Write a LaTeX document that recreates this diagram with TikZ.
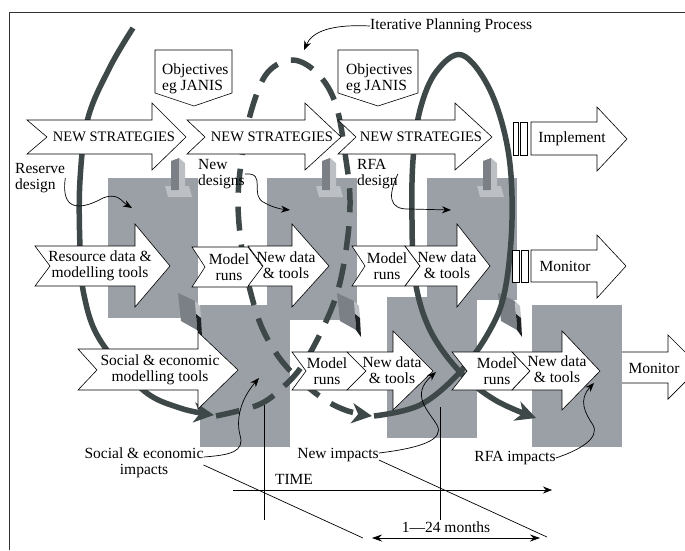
\documentclass[tikz,border=0pt]{standalone}
\usepackage{fontspec}
\setmainfont{Liberation Serif}
\usetikzlibrary{arrows.meta}
\definecolor{slabgray}{RGB}{154,160,166}
\definecolor{loopdark}{RGB}{62,72,72}
\definecolor{peglight}{RGB}{188,192,196}
\definecolor{pegmid}{RGB}{122,128,134}
\definecolor{pegdark}{RGB}{30,34,36}

\begin{document}
\begin{tikzpicture}[x=1pt,y=-1pt,
  blk/.style={draw=black,fill=white,line width=0.6pt,line join=miter},
  slab/.style={fill=slabgray},
  loopline/.style={draw=loopdark,line width=5.5pt},
  loophead/.style={-{Stealth[length=20pt,width=20pt,inset=6pt]}},
  pointer/.style={draw=black,line width=0.7pt,-{Stealth[length=9pt,width=7pt]}},
  thin/.style={draw=black,line width=0.7pt},
  caps/.style={font=\fontsize{14.5}{15.5}\selectfont},
  every node/.style={inner sep=0pt,font=\fontsize{15.5}{16}\selectfont}]
\useasboundingbox (0,0) rectangle (685,550);
\draw [black!80,line width=1pt] (9,550) -- (9,12) -- (685,12);
% grey blocks
\fill [slab] (108,178) rectangle (198,318);
\fill [slab] (200,305) rectangle (290,447);
\fill [slab] (267,178) rectangle (357,320);
\fill [slab] (387,297) rectangle (477,438);
\fill [slab] (427,178) rectangle (517,300);
\fill [slab] (532,305) rectangle (622,447);
% pegs
\foreach \px/\qx in {165/178, 316/337, 477/498} {
  \fill [peglight] (\px,186) -- (\px+24,186) -- (\px+27,197) -- (\px+3,197) -- cycle;
  \fill [pegmid] (\px+6,161) -- (\px+14,158) -- (\px+14,190) -- (\px+6,190) -- cycle;
  \fill [peglight] (\px+14,158) -- (\px+20,163) -- (\px+20,192) -- (\px+14,190) -- cycle;
  \fill [pegmid] (\qx,293) -- (\qx+17,301) -- (\qx+19,330) -- (\qx+3,321) -- cycle;
  \fill [peglight] (\qx+17,301) -- (\qx+22,306) -- (\qx+23,318) -- (\qx+18,314) -- cycle;
  \fill [pegdark] (\qx+18,314) -- (\qx+23,318) -- (\qx+24,337) -- (\qx+19,330) -- cycle;
}
% loops
\draw [loopline,loophead] plot [smooth,tension=0.6] coordinates {(133,28) (110,67) (88,118) (80,180) (80,247) (84,295) (100,340) (143,390) (180,408) (214,415)};
\draw [loopline,loophead,dash pattern=on 24pt off 14pt] plot [smooth,tension=0.6] coordinates {(216,416) (258,405) (282,388) (302,366) (322,330) (338,290) (347,243) (350,200) (346,160) (336,105) (318,74) (293,60) (268,72) (253,105) (243,150) (238,200) (242,250) (250,290) (263,330) (285,365) (318,395) (345,410) (372,416)};
\draw [loopline,loophead] plot [smooth,tension=0.6] coordinates {(374,416) (420,405) (460,372) (490,330) (505,290) (512,220) (508,150) (490,90) (462,55) (436,72) (420,110) (413,160) (412,220) (415,280) (430,330) (460,372) (495,400) (536,418)};
% row 1
\draw [blk] (155,50) -- (232,50) -- (232,93) -- (194,106) -- (155,93) -- cycle;
\draw [blk] (338,50) -- (418,50) -- (418,93) -- (378,106) -- (338,93) -- cycle;
\node [anchor=west,align=left] (obj1) at (162,79) {Objectives\\eg JANIS};
\node [anchor=west,align=left] (obj2) at (346,79) {Objectives\\eg JANIS};
\draw [blk] (27,120) -- (152,120) -- (152,103) -- (186,137) -- (152,170) -- (152,154) -- (27,154) -- (47,137) -- cycle;
\draw [blk] (187,120) -- (305,120) -- (305,103) -- (341,137) -- (305,170) -- (305,154) -- (187,154) -- (205,137) -- cycle;
\draw [blk] (338,120) -- (455,120) -- (455,103) -- (492,137) -- (455,170) -- (455,154) -- (338,154) -- (356,137) -- cycle;
\node [caps] (ns1) at (114,137) {NEW STRATEGIES};
\node [caps] (ns2) at (272,137) {NEW STRATEGIES};
\node [caps] (ns3) at (421,137) {NEW STRATEGIES};
\draw [blk] (513,122) rectangle (518,155);
\draw [blk] (520,122) rectangle (527,155);
\draw [blk] (531,122) -- (597,122) -- (597,107) -- (627,139) -- (597,171) -- (597,155) -- (531,155) -- cycle;
\node (impl) at (572,139) {Implement};
% row 2
\draw [blk] (35,246) -- (135,246) -- (135,224) -- (170,266) -- (135,307) -- (135,286) -- (35,286) -- (50,266) -- cycle;
\node [align=center] (res) at (100,266) {Resource data \&\\modelling tools};
\draw [blk] (192,247) -- (248,247) -- (263,267) -- (248,287) -- (192,287) -- (205,267) -- cycle;
\node [align=center] (mr1) at (229,267) {Model\\runs};
\draw [blk] (248,246) -- (292,246) -- (292,224) -- (329,266) -- (292,307) -- (292,286) -- (248,286) -- (263,266) -- cycle;
\node [align=center] (nd1) at (286,265) {New data\\\& tools};
\draw [blk] (352,246) -- (405,246) -- (420,266) -- (405,286) -- (352,286) -- (365,266) -- cycle;
\node [align=center] (mr2) at (387,266) {Model\\runs};
\draw [blk] (405,246) -- (457,246) -- (457,224) -- (490,266) -- (457,307) -- (457,286) -- (405,286) -- (420,266) -- cycle;
\node [align=center] (nd2) at (447,265) {New data\\\& tools};
\draw [blk] (512,250) rectangle (519,282);
\draw [blk] (521,250) rectangle (528,282);
\draw [blk] (531,250) -- (597,250) -- (597,235) -- (626,266) -- (597,298) -- (597,282) -- (531,282) -- cycle;
\node (mon1) at (565,266) {Monitor};
% row 3
\draw [blk] (78,349) -- (198,349) -- (198,332) -- (238,370) -- (198,409) -- (198,390) -- (78,390) -- (97,370) -- cycle;
\node [align=center] (soc) at (160,370) {Social \& economic\\modelling tools};
\draw [blk] (292,352) -- (347,352) -- (366,371) -- (347,390) -- (292,390) -- (306,371) -- cycle;
\node [align=center] (mr3) at (327,371) {Model\\runs};
\draw [blk] (347,352) -- (393,352) -- (393,331) -- (433,371) -- (393,410) -- (393,390) -- (347,390) -- (366,371) -- cycle;
\node [align=center] (nd3) at (392,370) {New data\\\& tools};
\draw [blk] (452,352) -- (512,352) -- (530,371) -- (512,390) -- (452,390) -- (467,371) -- cycle;
\node [align=center] (mr4) at (497,371) {Model\\runs};
\draw [blk] (512,352) -- (562,352) -- (562,331) -- (600,371) -- (562,410) -- (562,390) -- (512,390) -- (530,371) -- cycle;
\node [align=center] (nd4) at (557,369) {New data\\\& tools};
\fill [white] (622,352) -- (668,352) -- (668,335) -- (700,367) -- (668,399) -- (668,383) -- (622,383) -- cycle;
\draw [thin] (622,352) -- (668,352) -- (668,335) -- (700,367) -- (668,399) -- (668,383) -- (622,383);
\node (mon2) at (654,368) {Monitor};
% labels
\node (iter) [anchor=west] at (370,26) {Iterative Planning Process};
\node (resdes) [anchor=west,align=left] at (15,178) {Reserve\\design};
\node (newdes) [anchor=west,align=left] at (198,174) {New\\designs};
\node (rfades) [anchor=west,align=left] at (357,174) {RFA\\design};
\node (socimp) [align=center] at (144,463) {Social \& economic\\impacts};
\node (newimp) at (338,455) {New impacts};
\node (rfaimp) at (515,458) {RFA impacts};
\node (time) at (294,479) {TIME};
\node (months) at (446,527) {1---24 months};
\coordinate (socend) at (363,538);
\coordinate (newend) at (547,537);
\draw [pointer] (iter.west) .. controls (330,24) and (312,32) .. (304,50);
\draw [pointer] (resdes.east) .. controls (60,215) and (85,208) .. (103,198) .. controls (118,192) and (122,202) .. (132,208);
\draw [pointer] (newdes.east) .. controls (268,172) and (248,196) .. (265,203) .. controls (272,207) and (280,209) .. (290,210);
\draw [pointer] (rfades.east) .. controls (388,195) and (388,210) .. (410,209) -- (451,210);
\draw [pointer] ([yshift=6pt]socimp.east) .. controls (230,455) and (245,452) .. (240,435) .. controls (236,420) and (240,400) .. (259,378);
\draw [pointer] ([yshift=2pt]newimp.east) .. controls (420,448) and (445,440) .. (437,425) .. controls (428,410) and (410,395) .. (436,372);
\draw [pointer] (rfaimp.east) .. controls (580,450) and (600,438) .. (593,425) .. controls (585,413) and (578,400) .. (594,383);
\draw [thin] ([yshift=-2pt]socimp.east) -- (socend);
\draw [thin] ([yshift=-5pt]newimp.east) -- (newend);
\draw [thin] (264,405) -- (264,520);
\draw [thin] (440,407) -- (440,520);
\draw [pointer] (233,490) -- (552,490);
\draw [thin,{Stealth[length=10pt,width=7pt]}-{Stealth[length=10pt,width=7pt]}] (372,538) -- (540,538);
\end{tikzpicture}
\end{document}
